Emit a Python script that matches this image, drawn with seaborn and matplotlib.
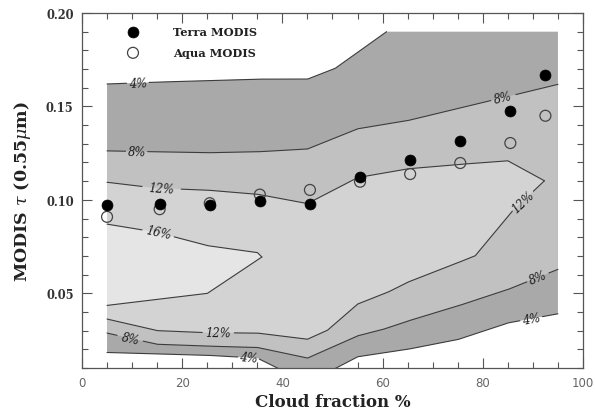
import numpy as np
import pandas as pd
import matplotlib
matplotlib.use("Agg")
import matplotlib.pyplot as plt
import seaborn as sns
from matplotlib.ticker import MultipleLocator, FormatStrFormatter

# ---------------- data ----------------
cloud_fraction = [5, 15.5, 25.5, 35.5, 45.5, 55.5, 65.5, 75.5, 85.5, 92.5]
terra_tau = [0.0972, 0.0977, 0.0975, 0.0995, 0.0977, 0.1120, 0.1213, 0.1313, 0.1478, 0.1669]
aqua_tau = [0.0909, 0.0950, 0.0982, 0.1028, 0.1053, 0.1097, 0.1138, 0.1197, 0.1304, 0.1450]

# contour boundaries (cloud fraction, tau) of the uncertainty field (%)
grid_left, grid_right, grid_top = 5, 95, 0.19

up4_x = [5, 15, 25, 35, 45, 50.5, 60.8]
up4_y = [0.162, 0.163, 0.1638, 0.1646, 0.1646, 0.1703, 0.19]
lo4_x = [5, 15, 25, 35, 45, 55, 65, 75, 85, 95]
lo4_y = [0.0183, 0.0175, 0.0168, 0.0153, 0.002, 0.016, 0.0200, 0.0252, 0.0341, 0.039]

up8_x = [5, 15, 25, 35, 45, 55, 65, 75, 85, 95]
up8_y = [0.1262, 0.1257, 0.1252, 0.1257, 0.1272, 0.138, 0.1424, 0.1489, 0.1553, 0.1618]
lo8_x = [5, 15, 25, 35, 45, 55, 60, 65, 75, 85, 95]
lo8_y = [0.0287, 0.0227, 0.0217, 0.0210, 0.0153, 0.0272, 0.0306, 0.0351, 0.0432, 0.0520, 0.0628]

up12_x = [5, 15, 25, 35, 45, 55, 65, 75, 85, 92.3]
up12_y = [0.1094, 0.1062, 0.1052, 0.1030, 0.0980, 0.1119, 0.1166, 0.1189, 0.1209, 0.1102]
lo12_x = [5, 15, 25, 35, 45, 49, 55, 61, 65, 75, 78.5, 85.8, 92.3]
lo12_y = [0.0362, 0.0300, 0.0289, 0.0287, 0.0254, 0.0302, 0.0442, 0.0505, 0.0559, 0.0663, 0.0701,
          0.0937, 0.1102]

up16_x = [5, 15, 25, 35, 35.9]
up16_y = [0.0870, 0.0826, 0.0755, 0.0718, 0.0694]
lo16_x = [5, 15, 25, 35.9]
lo16_y = [0.0435, 0.0467, 0.0499, 0.0694]

level_labels = ["4%", "8%", "12%", "16%"]

# ---------------- styling ----------------
sns.set_style("ticks")
plt.rcParams["mathtext.fontset"] = "dejavuserif"

fill_colors = ["#a9a9a9", "#c1c1c1", "#d3d3d3", "#e5e5e5"]
line_color = "#3c3c3c"
serif = ["DejaVu Serif"]

fig = plt.figure(figsize=(5.95, 4.14), dpi=100)
ax = fig.add_axes([0.1378, 0.1087, 0.842, 0.8575])
ax.set_xlim(0, 100)
ax.set_ylim(0.01, 0.20)

# ---------------- filled bands ----------------
poly4_x = lo4_x + [grid_right] + up4_x[::-1]
poly4_y = lo4_y + [grid_top] + up4_y[::-1]
ax.fill(poly4_x, poly4_y, color=fill_colors[0], lw=0, zorder=1)
ax.fill(lo8_x + up8_x[::-1], lo8_y + up8_y[::-1], color=fill_colors[1], lw=0, zorder=2)
ax.fill(lo12_x + up12_x[::-1], lo12_y + up12_y[::-1], color=fill_colors[2], lw=0, zorder=3)
ax.fill(lo16_x + up16_x[::-1], lo16_y + up16_y[::-1], color=fill_colors[3], lw=0, zorder=4)


def contour_line(xs, ys, labels):
    xs = np.asarray(xs, float)
    ys = np.asarray(ys, float)
    ends = [g for (g0, g1, _) in labels for g in (g0, g1)]
    xf = np.unique(np.concatenate([np.linspace(xs[0], xs[-1], 2000), xs, ends]))
    yf = np.interp(xf, xs, ys)
    for g0, g1, _ in labels:
        yf[(xf > g0) & (xf < g1)] = np.nan
    ax.plot(xf, yf, color=line_color, lw=0.8, zorder=5)
    for g0, g1, txt in labels:
        xm = 0.5 * (g0 + g1)
        ym = np.interp(xm, xs, ys)
        p0 = ax.transData.transform((g0, np.interp(g0, xs, ys)))
        p1 = ax.transData.transform((g1, np.interp(g1, xs, ys)))
        ang = np.degrees(np.arctan2(p1[1] - p0[1], p1[0] - p0[0]))
        ax.text(xm, ym, txt, rotation=ang, rotation_mode="anchor", ha="center",
                va="center", fontsize=8.3, style="italic", family=serif,
                color="#1a1a1a", zorder=6, clip_on=True)


contour_line(up4_x, up4_y, [(8.9, 13.4, level_labels[0])])
contour_line(lo4_x, lo4_y, [(31.1, 35.4, level_labels[0]), (87.4, 91.9, level_labels[0])])
contour_line(up8_x, up8_y, [(8.7, 13.1, level_labels[1]), (81.6, 86.6, level_labels[1])])
contour_line(lo8_x, lo8_y, [(7.0, 12.2, level_labels[1]), (88.8, 93.2, level_labels[1])])
contour_line(up12_x, up12_y, [(12.0, 19.8, level_labels[2])])
contour_line(lo12_x, lo12_y, [(24.0, 30.4, level_labels[2]), (85.9, 90.1, level_labels[2])])
contour_line(up16_x, up16_y, [(12.0, 18.4, level_labels[3])])
contour_line(lo16_x, lo16_y, [])

# ---------------- points ----------------
df = pd.DataFrame({"cf": cloud_fraction, "terra": terra_tau, "aqua": aqua_tau})
sns.scatterplot(data=df, x="cf", y="terra", ax=ax, s=62, color="black",
                edgecolor="black", linewidth=0.5, label="Terra MODIS", zorder=8)
sns.scatterplot(data=df, x="cf", y="aqua", ax=ax, s=62, color="white",
                edgecolor="#444444", linewidth=0.9, label="Aqua MODIS", zorder=7)
ax.collections[-1].set_facecolor("none")

leg = ax.legend(loc="upper left", bbox_to_anchor=(0.0904, 0.963), frameon=False,
                borderaxespad=0, borderpad=0, handlelength=1.0, handletextpad=3.0,
                labelspacing=0.85, scatterpoints=1,
                prop={"family": serif, "weight": "bold", "size": 8.2})
for t in leg.get_texts():
    t.set_color("#222222")

# ---------------- axes ----------------
ax.xaxis.set_major_locator(MultipleLocator(20))
ax.xaxis.set_minor_locator(MultipleLocator(5))
ax.yaxis.set_major_locator(MultipleLocator(0.05))
ax.yaxis.set_minor_locator(MultipleLocator(0.01))
ax.yaxis.set_major_formatter(FormatStrFormatter("%.2f"))
ax.tick_params(which="both", direction="in", top=True, right=True, color="#555555", width=0.8)
ax.tick_params(which="major", length=7)
ax.tick_params(which="minor", length=4)
ax.tick_params(axis="x", labelsize=8.5, labelcolor="#666666", pad=6)
ax.tick_params(axis="y", labelsize=8.3, labelcolor="#333333", pad=6)
for lab in ax.get_yticklabels():
    lab.set_family(serif)
    lab.set_weight("bold")
for sp in ax.spines.values():
    sp.set_color("#555555")
    sp.set_linewidth(0.9)

ax.set_xlabel("Cloud fraction %", family=serif, weight="bold", fontsize=12,
              color="#222222", labelpad=3)
ax.set_ylabel(r"MODIS $\tau$ (0.55$\mu$m)", family=serif, weight="bold", fontsize=12.5,
              color="#222222", labelpad=9)

fig.savefig("out.png", dpi=100)
